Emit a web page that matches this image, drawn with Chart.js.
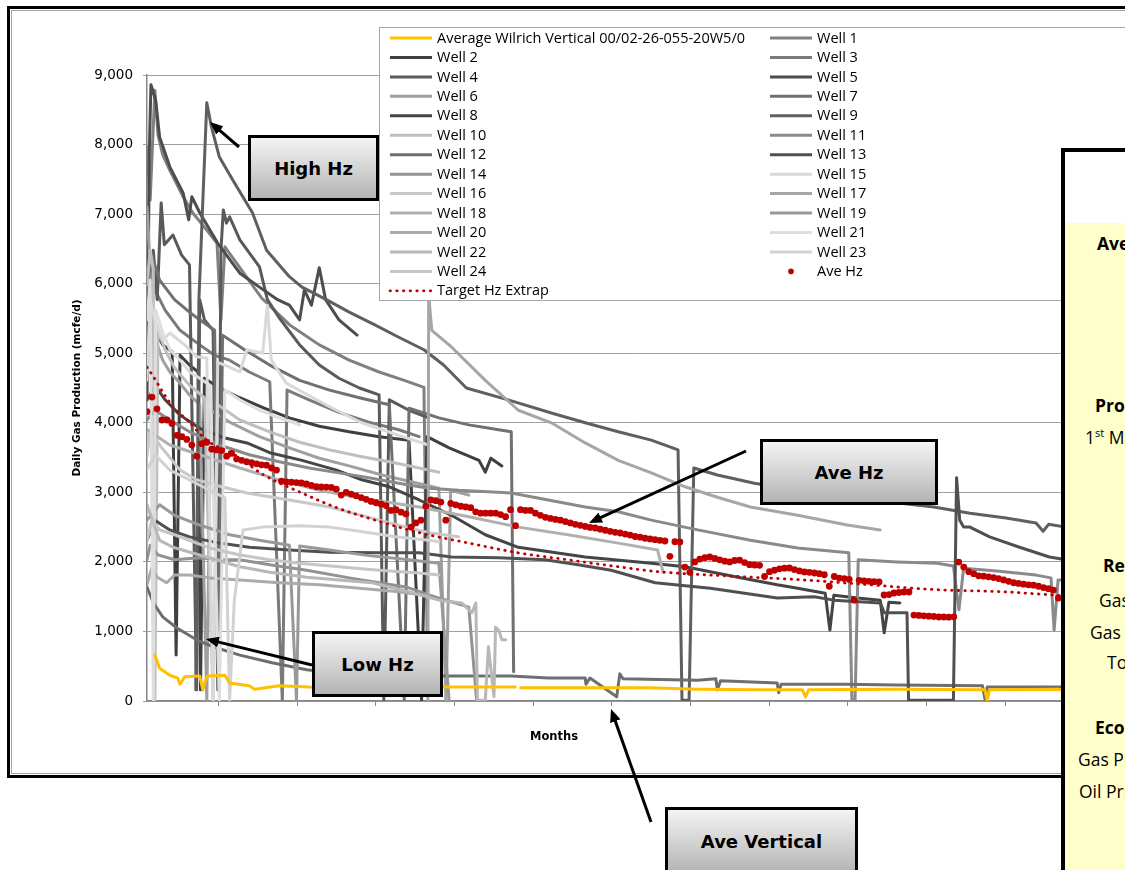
<!DOCTYPE html>
<html>
<head>
<meta charset="utf-8">
<script src="https://cdn.jsdelivr.net/npm/chart.js@4.4.0/dist/chart.umd.min.js"></script>
<style>
  html, body { margin: 0; padding: 0; width: 1125px; height: 870px; overflow: hidden; background: #fff; }
  #wrap { position: relative; width: 1125px; height: 870px; overflow: hidden; }
  #chart { position: absolute; left: 0; top: 0; }
  .callout { position: absolute; box-sizing: border-box; border: 3px solid #000;
    background: linear-gradient(#f4f4f4, #b4b4b4); color: #000;
    font: bold 18px "DejaVu Sans", sans-serif; display: flex; align-items: center; justify-content: center; }
  #panel { position: absolute; left: 1061px; top: 148px; width: 400px; height: 800px; border: 4px solid #000; background: #fff; }
  #panelFill { position: absolute; left: 0; right: 0; top: 71px; bottom: 0; background: #ffffcc; }
  .pt { position: absolute; white-space: nowrap; font: 17.5px "Open Sans", sans-serif; line-height: 22px; color: #000; }
  .pt.b { font-weight: bold; }
  .pt sup { font-size: 11px; line-height: 0; }
  #arrows { position: absolute; left: 0; top: 0; pointer-events: none; }
</style>
</head>
<body>
<div id="wrap">
  <canvas id="chart" width="1125" height="870"></canvas>

  <div class="callout" style="left:248px;top:135px;width:131px;height:66px;">High Hz</div>
  <div class="callout" style="left:760px;top:439px;width:178px;height:66px;">Ave Hz</div>
  <div class="callout" style="left:312px;top:631px;width:131px;height:66px;">Low Hz</div>
  <div class="callout" style="left:665px;top:807px;width:193px;height:68px;">Ave Vertical</div>

  <svg id="arrows" width="1125" height="870">
    <defs>
      <marker id="head" markerUnits="userSpaceOnUse" markerWidth="13" markerHeight="11" refX="4" refY="5.5" orient="auto">
        <path d="M0,0 L13,5.5 L0,11 z" fill="#000"/>
      </marker>
    </defs>
    <g stroke="#000" stroke-width="3" fill="none" marker-end="url(#head)">
      <line x1="239" y1="147" x2="216.8" y2="127.9"/>
      <line x1="746" y1="451" x2="597.2" y2="519.2"/>
      <line x1="312" y1="665" x2="214.7" y2="641.1"/>
      <line x1="651" y1="822" x2="614.0" y2="717.5"/>
    </g>
  </svg>

  <div id="panel"><div id="panelFill"></div></div>
  <div class="pt b" style="left:1097px;top:232px;">Average Hz Well</div>
  <div class="pt b" style="left:1095px;top:394px;">Production Rates</div>
  <div class="pt" style="left:1085px;top:426px;">1<sup>st</sup> Month Rate</div>
  <div class="pt b" style="left:1103px;top:554px;">Reserves</div>
  <div class="pt" style="left:1099px;top:589px;">Gas Sales</div>
  <div class="pt" style="left:1090px;top:621px;">Gas Liquids</div>
  <div class="pt" style="left:1107px;top:651px;">Total</div>
  <div class="pt b" style="left:1095px;top:716px;">Economics</div>
  <div class="pt" style="left:1078px;top:748px;">Gas Price</div>
  <div class="pt" style="left:1079px;top:780px;">Oil Price</div>
</div>

<script>
// ---- data: [month, mcfe/d] ----
const aveVertical = [[0.10,660],[0.16,470],[0.29,370],[0.39,330],[0.42,240],[0.48,350],[0.67,360],[0.71,160],[0.73,260],[0.77,360],[0.99,370],[1.05,260],[1.30,220],[1.37,170],[1.68,220],[2.06,200],[2.44,190],[2.95,200],[3.84,200],[4.68,200],[4.70,null],[4.75,190],[5.73,190],[6.37,190],[7.00,170],[7.76,160],[8.33,160],[8.37,60],[8.41,160],[9.53,170],[10.65,160],[10.68,10],[10.71,160],[11.58,170],[11.68,160]];

const well1 = [[0,7960],[0.04,7200],[0.10,8780],[0.14,8140],[0.20,7850],[0.29,7630],[0.46,7250],[0.58,7020],[0.76,6770],[0.89,6580],[0.94,5480],[0.99,6530],[1.18,6230],[1.46,5790],[1.81,5410],[2.19,5120],[2.57,4900],[2.95,4730],[3.27,4610],[3.52,4510],[3.57,90]];
const well2 = [[0,4900],[0.10,5330],[0.20,5120],[0.32,5020],[0.37,660],[0.42,4970],[0.54,4830],[0.65,4730],[0.68,160],[0.73,4640],[0.92,4500],[1.18,4360],[1.49,4210],[1.81,4070],[2.19,3950],[2.57,3870],[2.95,3800],[3.33,3750],[3.49,10],[3.56,3800],[3.84,3640],[4.22,3460],[4.30,3290],[4.37,3490],[4.51,3380]];
const well3 = [[0,6630],[0.04,6200],[0.10,5910],[0.23,5620],[0.42,5330],[0.67,5120],[0.86,4970],[1.05,4900],[1.30,4730],[1.56,4590],[1.72,10],[1.78,4470],[2.06,4330],[2.44,4150],[2.82,4010],[3.20,3900],[3.46,3800]];
const well4 = [[0,4610],[0.08,6480],[0.13,5770],[0.18,7160],[0.22,6560],[0.33,6700],[0.44,6410],[0.54,6270],[0.63,160],[0.67,5770],[0.73,5480],[0.84,5330],[0.90,160],[0.94,6480],[0.97,7060],[1.01,6870],[1.05,6960],[1.18,6630],[1.43,6240],[1.53,5770],[1.68,5510],[1.94,5120],[2.19,4830],[2.44,4640],[2.70,4500],[2.95,4400],[3.01,10],[3.08,4330],[3.33,4180],[3.58,4070]];
const well5 = [[0,4330],[0.03,7920],[0.05,8860],[0.11,8640],[0.16,8110],[0.29,7680],[0.46,7300],[0.53,6920],[0.57,7250],[0.67,7020],[0.90,6580],[1.18,6150],[1.43,5950],[1.66,5770],[1.81,5690],[1.94,5480],[2.00,5910],[2.09,5690],[2.19,6230],[2.27,5770],[2.44,5480],[2.67,5260]];
const well6 = [[0,7100],[0.03,6480],[0.06,5330],[0.13,5120],[0.20,4900],[0.29,4730],[0.42,4570],[0.54,4400],[0.67,4260],[0.76,10],[0.81,4180],[1.05,4010],[1.43,3800],[1.81,3640],[2.19,3490],[2.57,3380],[2.95,3260],[3.33,3160],[3.71,3060],[3.80,10],[3.86,3030],[4.09,2960]];
const well7 = [[0,5910],[0.06,6410],[0.16,6050],[0.35,5770],[0.54,5590],[0.67,5480],[0.86,5330],[0.91,160],[0.96,5260],[1.24,5050],[1.56,4830],[1.94,4610],[2.32,4470],[2.70,4360],[3.08,4260],[3.27,10],[3.33,4210],[3.71,4070],[4.09,3970],[4.47,3900],[4.63,3870],[4.66,420]];
const well8 = [[0,4330],[0.10,4540],[0.23,4330],[0.42,4110],[0.67,3920],[0.99,3780],[1.27,3710],[1.56,3570],[1.97,3460],[2.41,3320],[2.73,3180],[3.08,3080],[3.46,2890],[3.87,2670],[4.30,2390],[4.72,2210],[5.57,2070],[6.41,1980],[6.84,1930],[7.51,1780],[8.01,1670],[8.27,1620],[8.62,1550],[8.68,1020],[8.73,1520],[9.03,1480],[9.32,1450],[9.37,980],[9.43,1420],[9.57,1410]];
const well9 = [[0.62,160],[0.66,5770],[0.71,7200],[0.76,8600],[0.82,8250],[0.92,7820],[1.09,7490],[1.34,7020],[1.52,6480],[1.81,6100],[1.97,5950],[2.28,5770],[2.57,5590],[2.89,5410],[3.20,5230],[3.52,5050],[3.77,4830],[4.06,4500],[4.59,4330],[5.14,4140],[5.57,4000],[5.99,3870],[6.41,3750],[6.75,3610],[6.80,10],[6.89,10],[6.95,3350],[7.25,3250],[7.72,3130],[8.27,3030],[8.90,2930],[9.53,2850],[10.00,2790],[10.46,2700],[10.92,2630],[11.30,2560],[11.39,2440],[11.46,2540],[11.68,2500]];
const well10 = [[0,5980],[0.04,6480],[0.08,6200],[0.10,10],[0.14,5330],[0.23,5050],[0.35,4790],[0.54,4540],[0.73,4360],[0.84,10],[0.90,4260],[1.18,4040],[1.56,3870],[1.94,3720],[2.32,3610],[2.70,3520],[3.08,3440],[3.46,3350],[3.71,3290]];
const well11 = [[0,4040],[0.10,4180],[0.29,4040],[0.54,3870],[0.92,3680],[1.30,3540],[1.68,3440],[2.06,3350],[2.44,3280],[2.82,3210],[3.20,3130],[3.58,3060],[3.96,3030],[4.34,3010],[4.63,2990],[5.10,2890],[5.57,2790],[5.99,2720],[6.41,2600],[7.00,2460],[7.67,2310],[8.27,2200],[8.92,2130],[8.96,10],[9.00,10],[9.04,2030],[9.53,2000],[10.04,1980],[10.25,1940],[10.32,1310],[10.38,1910],[10.80,1870],[11.30,1810],[11.49,1770],[11.53,1020],[11.58,1740],[11.68,1740]];
const well12 = [[0,1640],[0.08,1410],[0.20,1210],[0.38,1050],[0.63,880],[0.84,780],[1.18,660],[1.59,550],[2.03,450],[2.44,400],[2.95,370],[3.84,360],[4.63,360],[5.10,330],[5.57,330],[5.58,240],[5.63,330],[5.97,60],[6.01,390],[6.05,320],[7.00,300],[7.23,320],[7.25,160],[7.29,290],[8.01,260],[8.03,120],[8.06,240],[8.90,240],[9.53,230],[10.62,220],[10.65,30],[10.68,200],[11.58,200],[11.68,200]];
const well13 = [[0,2310],[0.10,2600],[0.29,2460],[0.54,2360],[0.92,2270],[1.30,2210],[1.81,2170],[2.32,2140],[2.95,2130],[3.46,2130],[3.87,2070],[4.47,2060],[5.06,2030],[5.48,1960],[5.90,1880],[6.46,1700],[7.16,1620],[8.01,1480],[8.48,1500],[8.73,1450],[9.32,1410],[9.37,1270],[9.66,1270],[9.68,10],[10.25,10],[10.29,3210],[10.33,2600],[10.38,2500],[10.46,2500],[10.71,2360],[11.09,2210],[11.47,2070],[11.68,2030]];
const well14 = [[0,2030],[0.04,2240],[0.14,2100],[0.35,2030],[0.67,2060],[0.92,2030],[1.18,2030],[1.56,1960],[2.03,1880],[2.57,1770],[3.29,1640],[3.71,1480],[4.09,1350],[4.19,10]];
const well15 = [[0,4610],[0.04,5770],[0.10,5480],[0.20,5190],[0.29,5290],[0.48,5120],[0.63,4950],[0.76,4930],[0.84,10],[0.90,4870],[1.05,4800],[1.18,4730],[1.27,5050],[1.47,5000],[1.53,5690],[1.58,4900],[1.77,4570],[2.32,4230],[2.73,4000],[3.20,3820],[3.58,3680]];
const well16 = [[0,3510],[0.04,3900],[0.16,3680],[0.42,3320],[0.63,3180],[0.95,3080],[1.27,2990],[1.81,2890],[2.32,2790],[2.95,2600],[3.58,2420],[3.96,2360]];
const well17 = [[3.57,10],[3.58,5840],[3.62,5330],[3.87,5090],[4.30,4610],[4.72,4180],[5.14,4000],[5.57,3710],[5.99,3460],[6.41,3280],[6.84,3080],[7.25,2930],[7.67,2790],[8.27,2670],[8.90,2530],[9.32,2460]];
const well18 = [[0,3900],[0.29,3680],[0.67,3540],[1.18,3350],[1.68,3180],[2.19,3030],[2.70,2920],[3.46,2790],[4.09,2650],[4.72,2500],[5.35,2390],[5.99,2270],[6.49,2170],[6.56,1850]];
const well19 = [[0,2600],[0.16,2820],[0.35,2670],[0.67,2530],[1.05,2390],[1.43,2310],[1.81,2240],[1.90,10],[1.94,2230],[2.32,2170],[2.82,2090],[3.33,2030],[3.71,1980],[3.84,10]];
const well20 = [[0,1670],[0.06,1910],[0.13,1780],[0.25,1700],[0.35,1810],[0.54,1810],[0.80,1770],[1.18,1740],[1.68,1700],[2.19,1670],[2.70,1620],[3.20,1570],[3.58,1510]];
const well21 = [[0,5480],[0.04,6050],[0.08,10],[0.11,5620],[0.19,5330],[0.29,5050],[0.42,4900],[0.54,4730],[0.67,4640],[0.80,4540],[0.92,10],[0.99,4470],[1.18,4330],[1.43,4180],[1.68,4070],[1.94,3970]];
const well22 = [[0,2820],[0.16,2310],[0.33,2210],[0.67,2100],[1.18,1930],[1.56,1850],[2.03,1780],[2.44,1740],[2.86,1700],[3.33,1570],[3.71,1450],[4.00,1410],[4.13,1270],[4.18,1410],[4.20,10],[4.30,10],[4.34,780],[4.41,60],[4.43,1060],[4.47,1020],[4.51,880],[4.56,880]];
const well23 = [[0,3320],[0.10,3540],[0.29,3320],[0.54,3180],[0.80,3030],[0.99,2920],[1.05,10],[1.11,1450],[1.22,2460],[1.47,2500],[1.94,2520],[2.32,2500],[2.70,2440],[3.16,2360],[3.58,2310],[3.71,2290]];
const well24 = [[0,2310],[0.06,2600],[0.16,2460],[0.35,2390],[0.54,2310],[0.80,2200],[1.18,2100],[1.56,2030],[1.94,1980],[2.44,1930],[2.95,1880],[3.46,1840],[3.71,1810]];

// average horizontal well, one value every aveHzStep months
const aveHzStart = 0;
const aveHzStep = 0.0633;
const aveHzValues = [4160,4370,4200,4040,4040,3990,3820,3800,3760,3680,
  3520,3700,3720,3620,3610,3600,3520,3560,3480,3460,
  3440,3425,3410,3395,3390,3350,3320,3160,3150,3145,
  3140,3135,3120,3100,3080,3077,3076,3070,3045,2960,
  3000,2975,2950,2925,2900,2870,2850,2830,2810,2740,
  2750,2715,2690,2500,2560,2600,2800,2890,2880,2860,
  2600,2840,2820,2800,2790,2780,2720,2700,2700,2700,
  2700,2680,2650,2750,2520,2750,2740,2740,2700,2670,
  2640,2625,2610,2600,2580,2560,2540,2525,2510,2495,
  2487,2470,2455,2440,2425,2415,2400,2385,2365,2355,
  2340,2330,2320,2310,2300,2080,2290,2286,1926,1850,
  2000,2040,2060,2070,2050,2030,2010,2000,2020,2025,
  1990,1960,1955,1950,1790,1860,1880,1900,1910,1912,
  1890,1870,1855,1850,1840,1830,1815,1650,1790,1768,
  1760,1750,1450,1735,1725,1720,1715,1711,1524,1530,
  1553,1560,1567,1567,1236,1230,1225,1220,1215,1208,
  1208,1205,1210,1998,1926,1860,1830,1800,1795,1785,
  1775,1760,1740,1720,1700,1690,1680,1670,1665,1650,
  1630,1615,1595,1480];

const targetHz = [[0,4800],[0.10,4630],[0.19,4460],[0.33,4230],[0.51,4040],[0.76,3750],[1.14,3520],[1.47,3260],[1.97,2990],[2.41,2780],[3.08,2540],[3.46,2420],[4.09,2270],[4.72,2130],[5.35,2030],[5.99,1930],[6.49,1860],[7.51,1790],[8.35,1740],[9.19,1670],[10.04,1600],[10.89,1570],[11.56,1520],[11.68,1510]];

const monthTicks = [0.91,1.91,2.91,3.91,4.91,5.91,6.91,7.91,8.91,9.91,10.91,11.91];
const yTickValues = [0,1000,2000,3000,4000,5000,6000,7000,8000,9000];

const wells = [well1,well2,well3,well4,well5,well6,well7,well8,well9,well10,well11,well12,
               well13,well14,well15,well16,well17,well18,well19,well20,well21,well22,well23,well24];
const wellColors = ['#808080','#3f3f3f','#7a7a7a','#5a5a5a','#4d4d4d','#a0a0a0','#707070','#454545',
                    '#5f5f5f','#bfbfbf','#8a8a8a','#6e6e6e','#505050','#929292','#d9d9d9','#c8c8c8',
                    '#a6a6a6','#b0b0b0','#999999','#ababab','#dedede','#b8b8b8','#d2d2d2','#c6c6c6'];

const toXY = arr => arr.map(p => ({ x: p[0], y: p[1] }));

const datasets = [];
datasets.push({ label: 'Average Wilrich Vertical 00/02-26-055-20W5/0', data: toXY(aveVertical),
  borderColor: '#ffc000', borderWidth: 3, order: 2 });
wells.forEach((w, i) => datasets.push({ label: 'Well ' + (i + 1), data: toXY(w),
  borderColor: wellColors[i], borderWidth: 3, order: 3 + (24 - i) }));
datasets.push({ type: 'scatter', label: 'Ave Hz',
  data: aveHzValues.map((v, i) => ({ x: aveHzStart + i * aveHzStep, y: v })),
  backgroundColor: '#c00000', borderColor: '#c00000', pointRadius: 3.4, pointBorderWidth: 0, order: 0 });
datasets.push({ label: 'Target Hz Extrap', data: toXY(targetHz), borderColor: '#c00000',
  borderWidth: 2.8, borderDash: [0.5, 6.2], borderCapStyle: 'round', cubicInterpolationMode: 'monotone', order: 1 });

// white page, double frame and x-axis title
const framePlugin = {
  id: 'frame',
  beforeDraw(chart) {
    const c = chart.ctx; c.save(); c.fillStyle = '#fff'; c.fillRect(0, 0, chart.width, chart.height); c.restore();
  },
  afterDraw(chart) {
    const c = chart.ctx; c.save();
    c.strokeStyle = '#a6a6a6'; c.lineWidth = 1; c.strokeRect(11.5, 10.5, 1400, 763);
    c.strokeStyle = '#000'; c.lineWidth = 3; c.strokeRect(8.5, 7.5, 1400, 769);
    c.fillStyle = '#000'; c.font = 'bold 11.5px "DejaVu Sans"'; c.textAlign = 'center'; c.textBaseline = 'middle';
    c.fillText('Months', 554, 737);
    c.restore();
  }
};

// two-column boxed legend built from the datasets
const boxLegend = {
  id: 'boxLegend',
  afterDatasetsDraw(chart) {
    const c = chart.ctx; const ds = chart.data.datasets;
    c.save();
    c.fillStyle = '#fff'; c.fillRect(379, 27, 900, 274);
    c.strokeStyle = '#a6a6a6'; c.lineWidth = 1; c.strokeRect(379.5, 27.5, 900, 273);
    c.font = '14.5px "Open Sans"'; c.textBaseline = 'middle'; c.textAlign = 'left';
    ds.forEach((d, i) => {
      const col = i % 2, row = (i - col) / 2;
      const x0 = col ? 770 : 390, y = 38 + row * 19.45;
      if (d.type === 'scatter') {
        c.fillStyle = d.backgroundColor; c.beginPath(); c.arc(x0 + 21, y, 2.8, 0, Math.PI * 2); c.fill();
      } else {
        c.strokeStyle = d.borderColor; c.lineWidth = d.borderWidth;
        c.setLineDash(d.borderDash || []); c.lineCap = d.borderCapStyle || 'butt';
        c.beginPath(); c.moveTo(x0, y); c.lineTo(x0 + 42, y); c.stroke(); c.setLineDash([]);
      }
      c.fillStyle = '#000'; c.fillText(d.label, x0 + 47, y + 0.5);
    });
    c.restore();
  }
};

Chart.defaults.font.family = '"DejaVu Sans", sans-serif';

new Chart(document.getElementById('chart'), {
  type: 'line',
  data: { datasets },
  options: {
    responsive: false, animation: false, events: [],
    layout: { padding: { left: 0, right: 0, top: 75, bottom: 125 } },
    elements: { point: { radius: 0 }, line: { tension: 0, borderJoinStyle: 'round', borderCapStyle: 'round' } },
    plugins: { legend: { display: false }, tooltip: { enabled: false } },
    scales: {
      x: {
        type: 'linear', min: 0, max: 12.38,
        afterBuildTicks(s) { s.ticks = monthTicks.map(v => ({ value: v })); },
        afterFit(s) { s.height = 44; },
        ticks: { display: false },
        grid: { drawOnChartArea: false, drawTicks: true, tickLength: 5, color: '#868686' },
        border: { color: '#868686', width: 1.5 }
      },
      y: {
        min: 0, max: 9000,
        afterBuildTicks(s) { s.ticks = yTickValues.map(v => ({ value: v })); },
        afterFit(s) { s.width = 147; },
        ticks: { color: '#000', font: { size: 13.5 }, padding: 10, callback: v => v.toLocaleString('en-US') },
        grid: { color: '#a0a0a0', lineWidth: 1, tickLength: 4, drawTicks: true },
        border: { color: '#868686', width: 1.5 },
        title: { display: true, text: 'Daily Gas Production (mcfe/d)', color: '#000',
          font: { size: 10.5, weight: 'bold' }, padding: { top: 70.7, bottom: 0 } }
      }
    }
  },
  plugins: [framePlugin, boxLegend]
});
</script>
</body>
</html>
